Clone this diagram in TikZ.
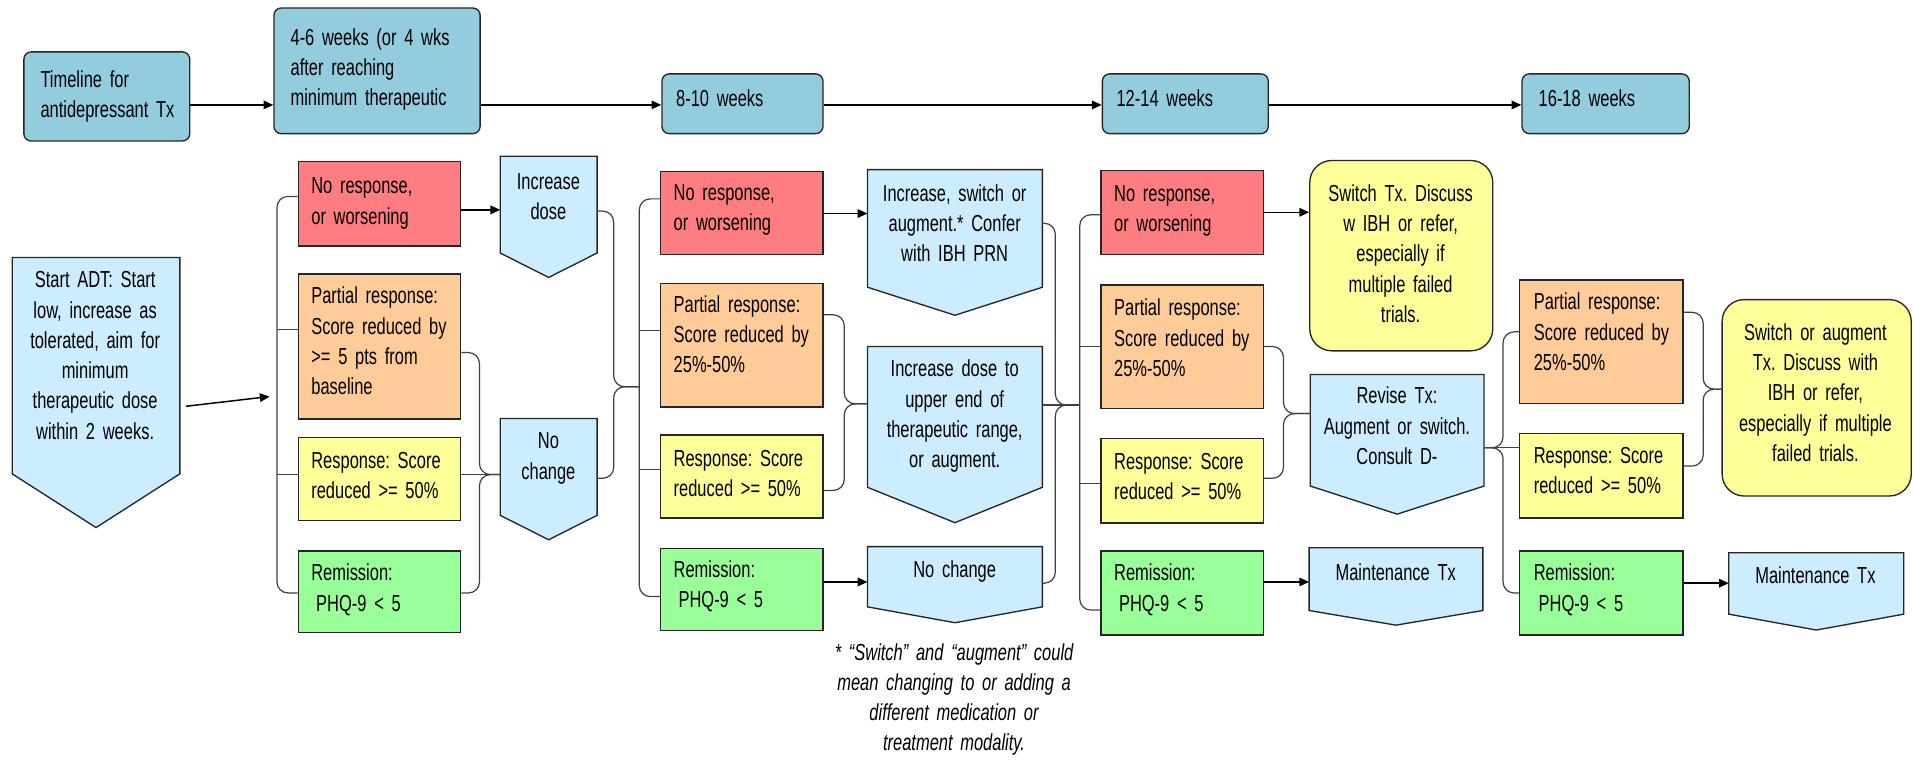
\documentclass[tikz,border=0pt]{standalone}
\usepackage{fontspec}
\setmainfont{Liberation Sans}[FakeStretch=0.71]
\usetikzlibrary{arrows.meta,calc}
\frenchspacing
\definecolor{topblue}{HTML}{93CDDD}
\definecolor{redf}{HTML}{FF7C80}
\definecolor{orf}{HTML}{FFCC99}
\definecolor{yef}{HTML}{FFFF99}
\definecolor{grf}{HTML}{99FF99}
\definecolor{lbf}{HTML}{CCECFF}
\newcommand\mainfs{\fontsize{19}{24.8}\selectfont\frenchspacing}
\tikzset{
  basel/.style={draw=black!85, line width=1.1pt},
  topbox/.style={basel, fill=topblue, rounded corners=6pt, inner sep=0pt, anchor=north west},
  redbox/.style={basel, fill=redf, inner sep=0pt, anchor=north west},
  orbox/.style={basel, fill=orf, inner sep=0pt, anchor=north west},
  yebox/.style={basel, fill=yef, inner sep=0pt, anchor=north west},
  grbox/.style={basel, fill=grf, inner sep=0pt, anchor=north west},
  rbox/.style={basel, fill=yef, rounded corners=18pt, inner sep=0pt, anchor=north west},
  pentst/.style={basel, fill=lbf, line join=miter},
  txtl/.style={inner sep=0pt, anchor=base west, text width=#1, align=left, font=\mainfs},
  txtc/.style={inner sep=0pt, anchor=base, text width=#1, align=center, font=\mainfs},
  arr/.style={line width=1.2pt, -{Triangle[length=8pt,width=7pt]}},
  brk/.style={draw=black!75, line width=1pt, rounded corners=9pt},
}
\newcommand\bx[6]{\node[#1, minimum width={(#5)-(#3)}, minimum height={(#6)-(#4)}] (#2) at (#3,#4) {};}
\newcommand\pent[6]{%
  \node[inner sep=0pt, minimum width={(#4)-(#2)}, minimum height={(#5)-(#3)}, anchor=north west] (#1) at (#2,#3) {};
  \draw[pentst] (#1.north west) -- (#1.north east) -- (#1.south east) -- ($(#1.south)+(0,{(#6)-(#5)})$) -- (#1.south west) -- cycle;
}
\begin{document}
\begin{tikzpicture}[x=1pt,y=-1pt]
\useasboundingbox (0,0) rectangle (1568,625);
% ---------- top row ----------
\bx{topbox}{tl}{19}{42}{155}{115}
\bx{topbox}{w46}{224}{6}{393}{109}
\bx{topbox}{w810}{542}{60}{674}{109}
\bx{topbox}{w1214}{903}{60}{1039}{109}
\bx{topbox}{w1618}{1247}{60}{1384}{109}
\node[txtl=130pt] (tlt) at (33,71.5) {Timeline for\\antidepressant Tx};
\node[txtl=160pt] (w46t) at (238,37) {4-6 weeks (or 4 wks\\after reaching\\minimum therapeutic};
\node[txtl=120pt] (w810t) at (554,87) {8-10 weeks};
\node[txtl=120pt] (w1214t) at (915,87) {12-14 weeks};
\node[txtl=120pt] (w1618t) at (1261,87) {16-18 weeks};
\coordinate (row) at (0,86);
\draw[arr] (tl.east |- row) -- (w46.west |- row);
\draw[arr] (w46.east |- row) -- (w810.west |- row);
\draw[arr] (w810.east |- row) -- (w1214.west |- row);
\draw[arr] (w1214.east |- row) -- (w1618.west |- row);
% ---------- start ----------
\pent{sadt}{10}{211}{147}{388}{432}
\node[txtc=137pt] (sadtt) at (78,236) {Start ADT: Start\\low, increase as\\tolerated, aim for\\minimum\\therapeutic dose\\within 2 weeks.};
% ---------- column 1 ----------
\bx{redbox}{r1}{244}{132}{377}{201}
\bx{orbox}{o1}{244}{224}{377}{343}
\bx{yebox}{y1}{244}{358}{377}{426}
\bx{grbox}{g1}{244}{451}{377}{518}
\node[txtl=125pt] (r1t) at (255,159) {No response,\\or worsening};
\node[txtl=125pt] (o1t) at (255,249) {Partial response:\\Score reduced by\\>= 5 pts from\\baseline};
\node[txtl=125pt] (y1t) at (255,384) {Response: Score\\reduced >= 50\%};
\node[txtl=125pt] (g1t) at (255,476) {Remission:\\\hspace*{4pt}PHQ-9 < 5};
\pent{inc1}{410}{128}{489}{207}{227}
\pent{nc1}{410}{343}{489}{422}{442}
\node[txtc=79pt] (inc1t) at (449.5,155) {Increase\\dose};
\node[txtc=79pt] (nc1t) at (449.5,368) {No\\change};
% ---------- column 2 ----------
\bx{redbox}{r2}{541}{140}{674}{208}
\bx{orbox}{o2}{541}{232}{674}{333}
\bx{yebox}{y2}{541}{356}{674}{424}
\bx{grbox}{g2}{541}{449}{674}{516}
\node[txtl=125pt] (r2t) at (552,164) {No response,\\or worsening};
\node[txtl=125pt] (o2t) at (552,256) {Partial response:\\Score reduced by\\25\%-50\%};
\node[txtl=125pt] (y2t) at (552,382) {Response: Score\\reduced >= 50\%};
\node[txtl=125pt] (g2t) at (552,473) {Remission:\\\hspace*{4pt}PHQ-9 < 5};
\pent{incsw}{711}{139}{854}{235}{258}
\pent{incd2}{711}{284}{854}{399}{428}
\pent{nc2}{711}{448}{854}{497}{510}
\node[txtc=143pt] (incswt) at (782.5,165) {Increase, switch or\\augment.* Confer\\with IBH PRN};
\node[txtc=143pt] (incd2t) at (782.5,309) {Increase dose to\\upper end of\\therapeutic range,\\or augment.};
\node[txtc=143pt] (nc2t) at (782.5,473) {No change};
% ---------- column 3 ----------
\bx{redbox}{r3}{902}{139}{1035}{208}
\bx{orbox}{o3}{902}{233}{1035}{334}
\bx{yebox}{y3}{902}{359}{1035}{428}
\bx{grbox}{g3}{902}{451}{1035}{520}
\node[txtl=125pt] (r3t) at (913,165) {No response,\\or worsening};
\node[txtl=125pt] (o3t) at (913,259) {Partial response:\\Score reduced by\\25\%-50\%};
\node[txtl=125pt] (y3t) at (913,385) {Response: Score\\reduced >= 50\%};
\node[txtl=125pt] (g3t) at (913,476) {Remission:\\\hspace*{4pt}PHQ-9 < 5};
\bx{rbox}{swtx}{1073}{131}{1223}{287}
\node[txtc=150pt] (swtxt) at (1148,165) {Switch Tx. Discuss\\w IBH or refer,\\especially if\\multiple failed\\trials.};
\pent{rev}{1074}{307}{1216}{398}{421}
\pent{m1}{1073}{449}{1215}{500}{512}
\node[txtc=142pt] (revt) at (1145,331) {Revise Tx:\\Augment or switch.\\Consult D-};
\node[txtc=142pt] (m1t) at (1144,476) {Maintenance Tx};
% ---------- column 4 ----------
\bx{orbox}{o4}{1245}{229}{1379}{330}
\bx{yebox}{y4}{1245}{355}{1379}{424}
\bx{grbox}{g4}{1245}{451}{1379}{520}
\node[txtl=125pt] (o4t) at (1257,254) {Partial response:\\Score reduced by\\25\%-50\%};
\node[txtl=125pt] (y4t) at (1257,380) {Response: Score\\reduced >= 50\%};
\node[txtl=125pt] (g4t) at (1257,476) {Remission:\\\hspace*{4pt}PHQ-9 < 5};
\bx{rbox}{swaug}{1411}{245}{1566}{406}
\node[txtc=155pt] (swaugt) at (1488,279) {Switch or augment\\Tx. Discuss with\\IBH or refer,\\especially if multiple\\failed trials.};
\pent{m2}{1417}{453}{1560}{503}{516}
\node[txtc=143pt] (m2t) at (1488,478) {Maintenance Tx};
% ---------- footnote ----------
\node[txtc=260pt, font=\mainfs\itshape] (fn) at (782,541) {* “Switch” and “augment” could\\mean changing to or adding a\\different medication or\\treatment modality.};
% ---------- connectors ----------
\draw[arr] ($(sadt.east |- 0,333)+(5,0)$) -- (221,325);
% bracket 1
\draw[brk] (r1.west |- 0,161) -| (227,486) -- (g1.west |- 0,486);
\draw[brk] (227,270) -- (o1.west |- 0,270);
\draw[brk] (227,389) -- (y1.west |- 0,389);
\draw[arr] (r1.east |- 0,172) -- (inc1.west |- 0,172);
\draw[brk] (o1.east |- 0,289) -| (393,389) -- (nc1.west |- 0,389);
\draw[brk] (g1.east |- 0,486) -| (393,389) -- (nc1.west |- 0,389);
\draw[brk] (y1.east |- 0,389) -- (nc1.west |- 0,389);
\draw[brk] (inc1.east |- 0,173) -| (503,317) -- (524,317);
\draw[brk] (nc1.east |- 0,392) -| (503,317) -- (524,317);
% bracket 2
\draw[brk] (r2.west |- 0,163) -| (524,489) -- (g2.west |- 0,489);
\draw[brk] (524,271) -- (o2.west |- 0,271);
\draw[brk] (524,385) -- (y2.west |- 0,385);
\draw[arr] (r2.east |- 0,175) -- (incsw.west |- 0,175);
\draw[arr] (g2.east |- 0,477) -- (nc2.west |- 0,477);
\draw[brk] (o2.east |- 0,258) -| (692,331) -- (incd2.west |- 0,331);
\draw[brk] (y2.east |- 0,402) -| (692,331) -- (incd2.west |- 0,331);
\draw[brk] (incsw.east |- 0,183) -| (865,332) -- (885,332);
\draw[brk] (nc2.east |- 0,478) -| (865,332) -- (885,332);
\draw[brk] (incd2.east |- 0,332) -- (885,332);
% bracket 3
\draw[brk] (r3.west |- 0,176) -| (885,500) -- (g3.west |- 0,500);
\draw[brk] (885,284) -- (o3.west |- 0,284);
\draw[brk] (885,396) -- (y3.west |- 0,396);
\draw[arr] (r3.east |- 0,174) -- (swtx.west |- 0,174);
\draw[arr] (g3.east |- 0,477) -- (m1.west |- 0,477);
\draw[brk] (o3.east |- 0,284) -| (1052,339) -- (rev.west |- 0,339);
\draw[brk] (y3.east |- 0,392) -| (1052,339) -- (rev.west |- 0,339);
% revise split
\draw[brk] (rev.east |- 0,367) -| (1232,272) -- (o4.west |- 0,272);
\draw[brk] (rev.east |- 0,367) -- (y4.west |- 0,367);
\draw[brk] (rev.east |- 0,367) -| (1232,486) -- (g4.west |- 0,486);
% column 4
\draw[brk] (o4.east |- 0,256) -| (1396,319) -- (swaug.west |- 0,319);
\draw[brk] (y4.east |- 0,382) -| (1396,319) -- (swaug.west |- 0,319);
\draw[arr] (g4.east |- 0,478) -- (m2.west |- 0,478);
\end{tikzpicture}
\end{document}
